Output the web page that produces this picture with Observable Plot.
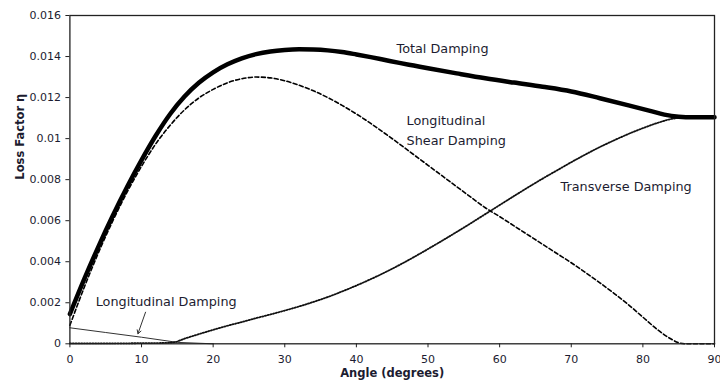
<!DOCTYPE html>
<html>
<head>
<meta charset="utf-8">
<script src="https://cdn.jsdelivr.net/npm/d3@7"></script>
<script src="https://cdn.jsdelivr.net/npm/@observablehq/plot@0.6"></script>
<style>
  html, body { margin: 0; padding: 0; background: #fff; }
  #chart svg { display: block; }
</style>
</head>
<body>
<div id="chart"></div>
<script>
// ---- Data (angle in degrees, loss factor) ----
const totalAngles = [0,2,4,6,8,10,12,14,16,18,20,22,24,26,28,30,32,34,36,38,40,42,44,46,48,50,54,58,62,66,70,74,78,81,83,85,87,90];
const totalValues = [0.00145,0.00315,0.00475,0.00625,0.00765,0.00895,0.01015,0.0112,0.01205,0.01272,0.01323,0.01362,0.01391,0.01412,0.01425,0.01432,0.01435,0.01434,0.0143,0.01422,0.0141,0.01397,0.01383,0.01369,0.01356,0.01343,0.01318,0.01294,0.01273,0.01253,0.0123,0.01197,0.01162,0.01135,0.01117,0.01107,0.01104,0.01104];

const shearAngles = [0,2,4,6,8,10,12,14,16,18,20,22,24,26,28,30,32,34,36,38,40,42,44,46,48,50,52,54,56,58,60,62,64,66,68,70,72,74,76,78,80,82,84,85,86,90];
const shearValues = [0.0009,0.00275,0.00445,0.006,0.0074,0.00865,0.00975,0.01065,0.0114,0.01198,0.0124,0.01272,0.01292,0.013,0.01296,0.01282,0.0126,0.01233,0.012,0.01162,0.0112,0.01074,0.01025,0.00974,0.00922,0.0087,0.00818,0.00766,0.00714,0.00663,0.0062,0.00575,0.0053,0.00485,0.0044,0.00395,0.00347,0.00297,0.00245,0.0019,0.0013,0.0007,0.00022,0.00005,0.0,0.0];

const transAngles = [0,5,10,13,14.5,16,18,20,22,24,26,28,30,32,34,36,38,40,42,44,46,48,50,52,54,56,58,60,62,64,66,68,70,72,74,76,78,80,82,84,86,90];
const transValues = [0.00002,0.00002,0.00003,0.00004,0.00007,0.00025,0.00047,0.00068,0.00088,0.00106,0.00125,0.00143,0.00162,0.00182,0.00204,0.00228,0.00255,0.00284,0.00315,0.00348,0.00384,0.00422,0.00462,0.00503,0.00545,0.00588,0.00632,0.00676,0.0072,0.00763,0.00805,0.00845,0.00885,0.00923,0.00959,0.00992,0.01023,0.01051,0.01076,0.01096,0.01103,0.01104];

const longAngles = [0,5,10,15,20];
const longValues = [0.00078,0.00055,0.00032,0.00007,0.0];

const xTicks = [0,10,20,30,40,50,60,70,80,90];
const yTicks = [0,0.002,0.004,0.006,0.008,0.01,0.012,0.014,0.016];

const xTitle = "Angle (degrees)";
const yTitle = "Loss Factor η";

// annotation labels (data coordinates)
const labelTexts  = ["Total Damping","Longitudinal","Shear Damping","Transverse Damping","Longitudinal Damping"];
const labelAngles = [45.6, 47.0, 47.0, 68.5, 3.6];
const labelValues = [0.01435, 0.01088, 0.0099, 0.00767, 0.00206];

// arrow for "Longitudinal Damping"
const arrowFrom = [10.56, 0.00154];
const arrowTo   = [9.5, 0.00049];

// ---- Build tables ----
const total = totalAngles.map((a, i) => ({a, v: totalValues[i]}));
const shear = shearAngles.map((a, i) => ({a, v: shearValues[i]}));
const trans = transAngles.map((a, i) => ({a, v: transValues[i]}));
const longi = longAngles.map((a, i) => ({a, v: longValues[i]}));
const labels = labelTexts.map((t, i) => ({t, a: labelAngles[i], v: labelValues[i]}));
const arrows = [{x1: arrowFrom[0], y1: arrowFrom[1], x2: arrowTo[0], y2: arrowTo[1]}];

const textColor = "#1c1c30";
const fmtY = d => String(+d.toFixed(3));

const chart = Plot.plot({
  width: 720,
  height: 383,
  marginLeft: 69.4,
  marginRight: 6,
  marginTop: 15,
  marginBottom: 39.7,
  style: {fontFamily: "DejaVu Sans", color: textColor, background: "#fff"},
  x: {domain: [0, 90]},
  y: {domain: [0, 0.016]},
  marks: [
    Plot.axisX({ticks: xTicks, tickSize: 4, tickPadding: 7, fontSize: 11, label: null, stroke: "#222"}),
    Plot.axisY({ticks: yTicks, tickSize: 4, tickPadding: 5, fontSize: 11, label: null, tickFormat: fmtY, stroke: "#222"}),
    Plot.line(longi, {x: "a", y: "v", stroke: "#333", strokeWidth: 1}),
    Plot.line(trans, {x: "a", y: "v", stroke: "#111", strokeWidth: 1.8, strokeDasharray: "1.2,1.6", curve: "monotone-x"}),
    Plot.line(shear, {x: "a", y: "v", stroke: "#000", strokeWidth: 1.6, strokeDasharray: "4,2.5", curve: "monotone-x"}),
    Plot.line(total, {x: "a", y: "v", stroke: "#000", strokeWidth: 4.5, curve: "monotone-x"}),
    Plot.arrow(arrows, {x1: "x1", y1: "y1", x2: "x2", y2: "y2", stroke: "#333", strokeWidth: 1, headLength: 6}),
    Plot.text(labels, {x: "a", y: "v", text: "t", textAnchor: "start", lineAnchor: "middle", fontSize: 12.8, fill: textColor}),
    Plot.text([xTitle], {frameAnchor: "bottom", dy: 33, fontSize: 11.5, fontWeight: "bold", fill: textColor}),
    Plot.text([yTitle], {frameAnchor: "left", dx: -49.4, rotate: -90, fontSize: 11.5, fontWeight: "bold", fill: textColor}),
    Plot.frame({stroke: "#222", strokeWidth: 1.3})
  ]
});
document.getElementById("chart").appendChild(chart);
</script>
</body>
</html>
